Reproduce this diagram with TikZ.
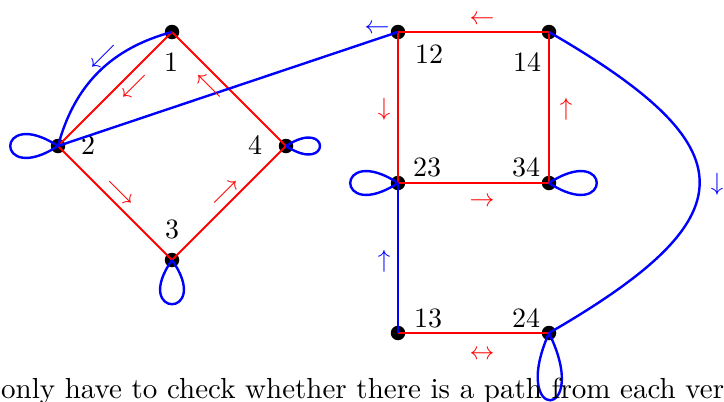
\documentclass[tikz,border=0pt]{standalone}
\usepackage{fontspec}
\setmainfont{lmroman10-regular}[Extension=.otf]
\begin{document}
\begin{tikzpicture}[x=1pt,y=1pt,
  dot/.style={circle,fill=black,minimum size=14.5pt,inner sep=0pt},
  lab/.style={font=\fontsize{28}{32}\selectfont,inner sep=0pt},
  arr/.style={font=\fontsize{31}{34}\selectfont,inner sep=0pt,anchor=base,yshift=-7.75pt},
  redge/.style={red,line width=2pt},
  bedge/.style={blue,line width=2.4pt},
]
\clip (0,0) rectangle (724,-402);
% vertices
\node[dot] (n1) at (172,-32) {};
\node[dot] (n2) at (58,-146) {};
\node[dot] (n3) at (172,-260) {};
\node[dot] (n4) at (286,-146) {};
\node[dot] (n12) at (398,-32) {};
\node[dot] (n14) at (549,-32) {};
\node[dot] (n23) at (398,-183) {};
\node[dot] (n34) at (549,-183) {};
\node[dot] (n13) at (398,-333) {};
\node[dot] (n24) at (549,-333) {};
% labels
\node[lab] (l1) at (171,-62) {1};
\node[lab] (l2) at (88,-145) {2};
\node[lab] (l3) at (172,-229) {3};
\node[lab] (l4) at (255,-145) {4};
\node[lab] (l12) at (429,-54) {12};
\node[lab] (l14) at (527,-62) {14};
\node[lab] (l23) at (427,-167) {23};
\node[lab] (l34) at (526,-167) {34};
\node[lab] (l13) at (428,-318) {13};
\node[lab] (l24) at (526,-318) {24};
% red edges
\draw[redge] (n1.center) -- (n2.center) -- (n3.center) -- (n4.center) -- (n1.center);
\draw[redge] (n12.center) -- (n14.center) -- (n34.center) -- (n23.center) -- (n12.center);
\draw[redge] (n13.center) -- (n24.center);
% blue edges
\draw[bedge] (n2.center) to[bend left=30] (n1.center);
\draw[bedge] (n2.center) -- (n12.center);
\draw[bedge] (n23.center) -- (n13.center);
\draw[bedge] (n14.center) .. controls +(-30:232) and +(30:232) .. (n24.center);
% loops
\draw[bedge] (n2.center) .. controls +(147:76) and +(213:76) .. (n2.center);
\draw[bedge] (n3.center) .. controls +(235:72) and +(305:72) .. (n3.center);
\draw[bedge] (n4.center) .. controls +(-33:54) and +(33:54) .. (n4.center);
\draw[bedge] (n23.center) .. controls +(147:76) and +(213:76) .. (n23.center);
\draw[bedge] (n34.center) .. controls +(-33:76) and +(33:76) .. (n34.center);
\draw[bedge] (n24.center) .. controls +(246:99) and +(296:99) .. (n24.center);
% arrow labels
\node[arr,blue] (a1) at (103,-55) {$\swarrow$};
\node[arr,red] (a2) at (134,-85) {$\swarrow$};
\node[arr,red] (a3) at (209,-85) {$\nwarrow$};
\node[arr,red] (a4) at (120,-191) {$\searrow$};
\node[arr,red] (a5) at (225,-191) {$\nearrow$};
\node[arr,blue] (a6) at (377,-26) {$\leftarrow$};
\node[arr,red] (a7) at (482,-17) {$\leftarrow$};
\node[arr,red] (a8) at (384,-108) {$\downarrow$};
\node[arr,red] (a9) at (566,-108) {$\uparrow$};
\node[arr,red] (a10) at (482,-199) {$\rightarrow$};
\node[arr,blue] (a11) at (717,-183) {$\downarrow$};
\node[arr,blue] (a12) at (384,-260) {$\uparrow$};
\node[arr,red] (a13) at (482,-352) {$\leftrightarrow$};
% bottom text
\node[anchor=base west,inner sep=0pt,font=\fontsize{29}{32}\selectfont] (txt) at (1,-398) {only have to check whether there is a path from each vertex};
\end{tikzpicture}
\end{document}
